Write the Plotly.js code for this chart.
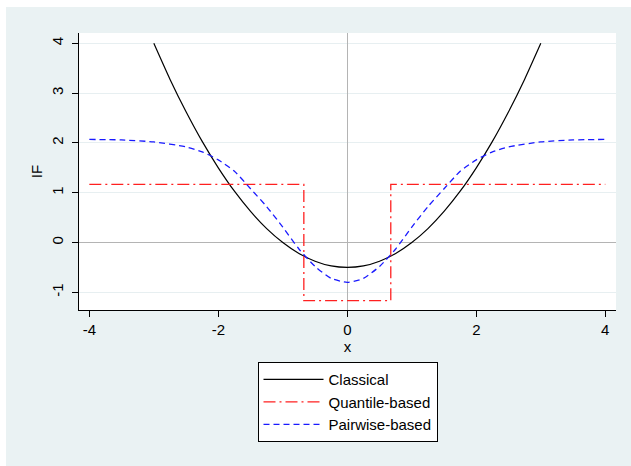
<!DOCTYPE html>
<html>
<head>
<meta charset="utf-8">
<script src="https://cdn.plot.ly/plotly-3.0.1.min.js"></script>
<style>
html,body{margin:0;padding:0;background:#ffffff;}
#chart{position:absolute;left:6px;top:7px;width:625px;height:459px;}
</style>
</head>
<body>
<div id="chart"></div>
<script>
// Classical IF
var classicalX = [-3, -2.75, -2.5, -2.25, -2, -1.75, -1.5, -1.25, -1, -0.75, -0.5, -0.25, 0, 0.25, 0.5, 0.75, 1, 1.25, 1.5, 1.75, 2, 2.25, 2.5, 2.75, 3];
var classicalY = [4, 3.28, 2.625, 2.03, 1.5, 1.03, 0.625, 0.28, 0, -0.22, -0.375, -0.47, -0.5, -0.47, -0.375, -0.22, 0, 0.28, 0.625, 1.03, 1.5, 2.03, 2.625, 3.28, 4];
// Quantile-based IF
var quantileX = [-4, -0.674, -0.674, 0.674, 0.674, 4];
var quantileY = [1.167, 1.167, -1.167, -1.167, 1.167, 1.167];
// Pairwise-based IF
var pairwiseX = [-4, -3.5, -3, -2.5, -2.25, -2, -1.75, -1.5, -1.25, -1, -0.75, -0.5, -0.25, 0, 0.25, 0.5, 0.75, 1, 1.25, 1.5, 1.75, 2, 2.25, 2.5, 3, 3.5, 4];
var pairwiseY = [2.07, 2.06, 2.02, 1.92, 1.82, 1.66, 1.43, 1.08, 0.72, 0.31, -0.13, -0.48, -0.72, -0.80, -0.72, -0.48, -0.13, 0.31, 0.72, 1.08, 1.43, 1.66, 1.82, 1.92, 2.02, 2.06, 2.07];

var xTicks = [-4, -2, 0, 2, 4];
var yTicks = [-1, 0, 1, 2, 3, 4];
var seriesNames = ['Classical', 'Quantile-based', 'Pairwise-based'];

var traces = [
  {x: classicalX, y: classicalY, name: seriesNames[0], type: 'scatter', mode: 'lines',
   line: {color: '#000000', width: 1.2, shape: 'spline', smoothing: 0.6}},
  {x: quantileX, y: quantileY, name: seriesNames[1], type: 'scatter', mode: 'lines',
   line: {color: '#ff2020', width: 1.3, dash: '12px,4px,2px,4px'}},
  {x: pairwiseX, y: pairwiseY, name: seriesNames[2], type: 'scatter', mode: 'lines',
   line: {color: '#1a1aff', width: 1.3, dash: '6px,4px', shape: 'spline', smoothing: 0.6}}
];

var layout = {
  width: 625, height: 459,
  paper_bgcolor: '#eaf2f3',
  plot_bgcolor: '#ffffff',
  margin: {l: 73, r: 15, t: 26, b: 156},
  font: {family: 'Liberation Sans, Arial, sans-serif', size: 15, color: '#000000'},
  showlegend: true,
  legend: {
    x: 0.5, xanchor: 'center', y: -0.188, yanchor: 'top',
    bgcolor: '#ffffff', bordercolor: '#000000', borderwidth: 1,
    font: {size: 15}, itemwidth: 60, tracegroupgap: 0
  },
  xaxis: {
    range: [-4.16, 4.166],
    tickvals: xTicks, ticktext: xTicks.map(String),
    ticks: 'outside', ticklen: 6, tickcolor: '#000000',
    showline: true, linecolor: '#000000', linewidth: 1,
    showgrid: false,
    zeroline: true, zerolinecolor: '#b4b4b4', zerolinewidth: 1,
    title: {text: 'x', standoff: 2, font: {size: 15}},
    tickfont: {size: 15}
  },
  yaxis: {
    range: [-1.355, 4.207],
    tickvals: yTicks, ticktext: yTicks.map(String),
    tickangle: -90,
    ticks: 'outside', ticklen: 6, tickcolor: '#000000',
    ticklabelstandoff: 3,
    showline: true, linecolor: '#000000', linewidth: 1,
    showgrid: true, gridcolor: '#e7eff1', gridwidth: 1,
    zeroline: true, zerolinecolor: '#b4b4b4', zerolinewidth: 1,
    title: {text: 'IF', standoff: 2, font: {size: 15}},
    tickfont: {size: 15}
  }
};

Plotly.newPlot('chart', traces, layout, {displayModeBar: false, staticPlot: true});
</script>
</body>
</html>
